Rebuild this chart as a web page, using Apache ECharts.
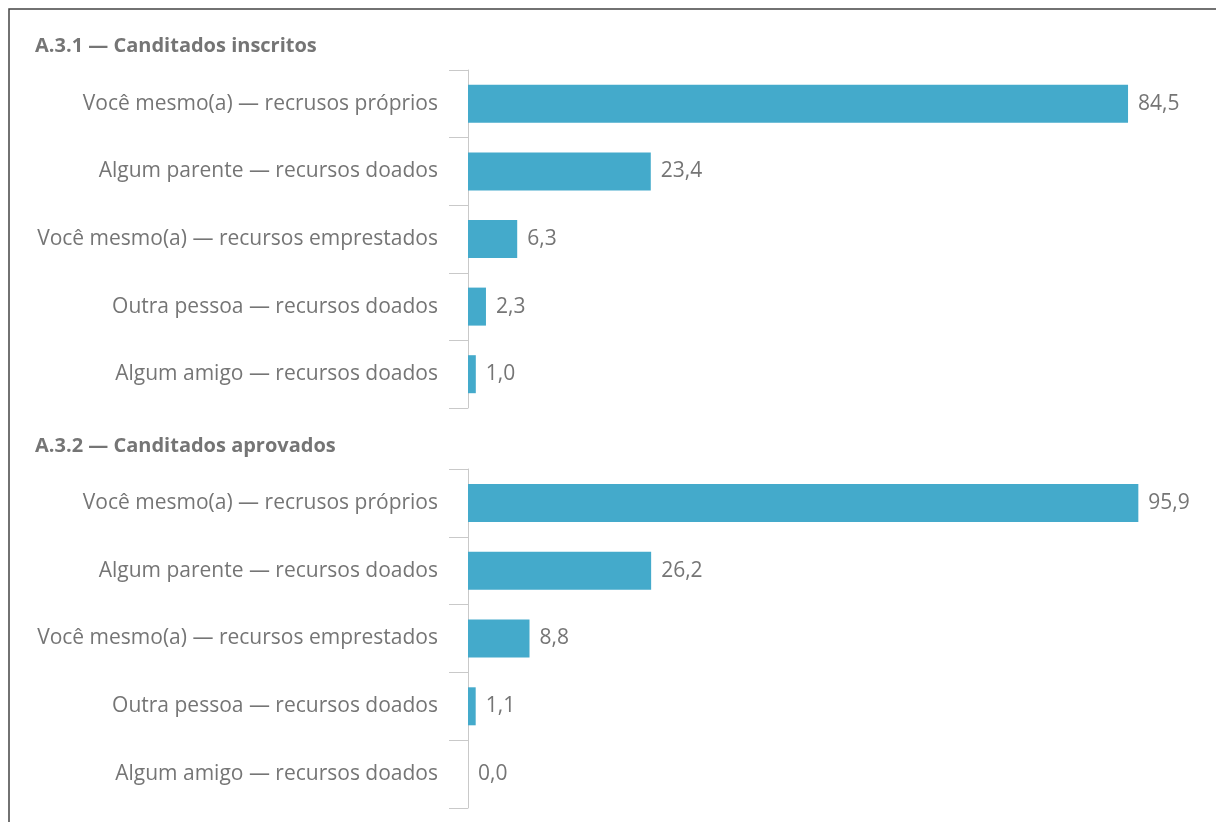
<!DOCTYPE html>
<html>
<head>
<meta charset="utf-8">
<script src="https://cdn.jsdelivr.net/npm/echarts@6/dist/echarts.min.js"></script>
<style>html,body{margin:0;padding:0;background:#fff;}#chart{width:1216px;height:822px;}</style>
</head>
<body>
<div id="chart"></div>
<script>
const titles = ['A.3.1 — Canditados inscritos', 'A.3.2 — Canditados aprovados'];
const categories = [
  'Você mesmo(a) — recrusos próprios',
  'Algum parente — recursos doados',
  'Você mesmo(a) — recursos emprestados',
  'Outra pessoa — recursos doados',
  'Algum amigo — recursos doados'
];
const inscritos = [84.5, 23.4, 6.3, 2.3, 1.0];
const aprovados = [95.9, 26.2, 8.8, 1.1, 0.0];
const axisMax = [90, 100];

const FONT = 'Open Sans';
const TXT = '#757575';
const BAR = '#44AACB';
const AX = '#c9c9c9';

const chart = echarts.init(document.getElementById('chart'));
const fmt = p => p.value.toFixed(1).replace('.', ',');
function yAx(i) {
  return {
    type: 'category', gridIndex: i, data: categories, inverse: true,
    axisLine: { show: true, lineStyle: { color: AX, width: 1 } },
    axisTick: { show: true, length: 19, lineStyle: { color: AX } },
    axisLabel: { margin: 30, color: TXT, fontFamily: FONT, fontSize: 21 },
    splitLine: { show: false }
  };
}
function xAx(i) {
  return { type: 'value', gridIndex: i, min: 0, max: axisMax[i], show: false, splitLine: { show: false } };
}
function ser(i, data) {
  return {
    type: 'bar', xAxisIndex: i, yAxisIndex: i, data: data, barWidth: 38,
    itemStyle: { color: BAR },
    label: { show: true, position: 'right', distance: 10, formatter: fmt, color: TXT, fontFamily: FONT, fontSize: 21 },
    silent: true
  };
}
chart.setOption({
  animation: false,
  backgroundColor: '#fff',
  title: [
    { text: titles[0], left: 35, top: 36, padding: 0, textStyle: { fontFamily: FONT, fontWeight: 'bold', fontSize: 20, color: TXT } },
    { text: titles[1], left: 35, top: 436, padding: 0, textStyle: { fontFamily: FONT, fontWeight: 'bold', fontSize: 20, color: TXT } }
  ],
  graphic: [
    { type: 'rect', shape: { x: 9, y: 9, width: 1300, height: 900 }, style: { fill: 'none', stroke: '#444', lineWidth: 1.5 }, silent: true }
  ],
  grid: [
    { left: 468, right: 45, top: 70, height: 338 },
    { left: 468, right: 49, top: 469, height: 339 }
  ],
  xAxis: [xAx(0), xAx(1)],
  yAxis: [yAx(0), yAx(1)],
  series: [ser(0, inscritos), ser(1, aprovados)]
});
</script>
</body>
</html>
